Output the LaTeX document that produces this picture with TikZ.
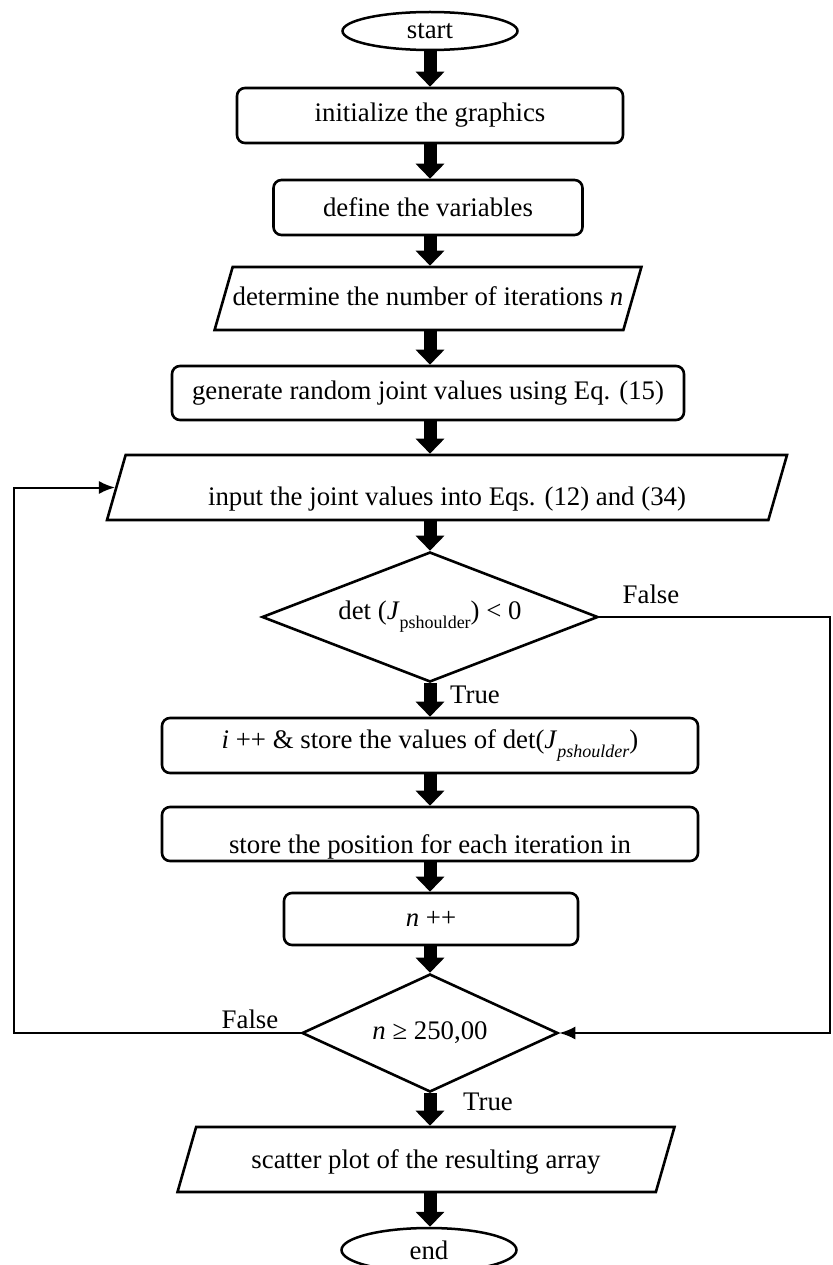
\documentclass[tikz,border=0pt]{standalone}
\usepackage{fontspec}
\setmainfont{Liberation Serif}
\usetikzlibrary{shapes.geometric, arrows.meta}

\begin{document}
\begin{tikzpicture}[x=1pt, y=-1pt,
  font=\fontsize{26.8}{32}\selectfont,
  term/.style={ellipse, draw, line width=2.5pt, minimum width=175pt, minimum height=38pt, inner sep=0pt},
  proc/.style={rectangle, rounded corners=8pt, draw, line width=2.6pt, inner sep=0pt},
  io/.style={trapezium, trapezium left angle=74, trapezium right angle=106, trapezium stretches body, draw, line width=2.6pt, inner sep=0pt},
  test/.style={diamond, draw, line width=2.6pt, inner sep=0pt},
  flow/.style={line width=13pt, -{Triangle[width=28pt, length=15pt]}},
  back/.style={line width=2pt, -{Latex[length=16pt, width=13pt]}},
  lab/.style={inner sep=0pt}]

% Page
\path[use as bounding box, fill=white] (0,0) rectangle (832,1265);

% Steps
\node[term] (start) at (430,31) {start};
\node[proc, minimum width=386pt, minimum height=55pt] (init) at (430,115.5) {initialize the graphics};
\node[proc, minimum width=309pt, minimum height=55pt] (vars) at (428,207.5) {define the variables};
\node[io, text height=38pt, text depth=25pt, minimum width=425pt] (iter) at (428,298.5) {determine the number of iterations \textit{n}};
\node[proc, minimum width=512pt, minimum height=54pt] (rand) at (428,393) {generate random joint values using Eq. (15)};
\node[io, text height=50pt, text depth=15pt, minimum width=680pt] (input) at (447,487.5) {input the joint values into Eqs. (12) and (34)};
\node[test, aspect=2.58, minimum width=336pt, minimum height=130pt] (neg) at (430,617) {det (\textit{J}\raisebox{-9pt}{\fontsize{18}{20}\selectfont pshoulder}) {<} 0};
\node[proc, minimum width=536pt, minimum height=55pt] (keep) at (430,745.5) {\textit{i} ++ \& store the values of det(\textit{J}\raisebox{-9pt}{\fontsize{18}{20}\selectfont\itshape pshoulder})};
\node[proc, minimum width=536pt, minimum height=54pt] (pos) at (430,834) {\raisebox{-19pt}[0pt][0pt]{store the position for each iteration in}};
\node[proc, minimum width=294pt, minimum height=52pt] (count) at (431,919) {\textit{n} ++};
\node[test, aspect=2.17, minimum width=256pt, minimum height=118pt] (done) at (430,1033) {\textit{n} ≥ 250,00};
\node[io, text height=41pt, text depth=24pt, minimum width=497pt] (plot) at (426,1159.5) {scatter plot of the resulting array};
\node[term, minimum height=44pt] (end) at (429,1250) {end};

% Corners
\coordinate (rbot) at (830,1033);
\coordinate (lbot) at (14,1033);

% Arrows
\draw[flow] (start.south) -- (start.south |- init.north);
\draw[flow] (init.south) -- (init.south |- vars.north);
\draw[flow] (init.south |- vars.south) -- (init.south |- iter.north);
\draw[flow] (init.south |- iter.south) -- (init.south |- rand.north);
\draw[flow] (init.south |- rand.south) -- (init.south |- input.north);
\draw[flow] (neg.north |- input.south) -- (neg.north);
\draw[flow] (neg.south) -- (neg.south |- keep.north);
\draw[flow] (keep.south) -- (keep.south |- pos.north);
\draw[flow] (pos.south) -- (pos.south |- count.north);
\draw[flow] (done.north |- count.south) -- (done.north);
\draw[flow] (done.south) -- (done.south |- plot.north);
\draw[flow] (done.south |- plot.south) -- (done.south |- end.north);

% Loops
\draw[back] (neg.east) -| (rbot) -- (done.east);
\draw[back] (done.west) -- (lbot) |- (input.west);

% Labels
\node[lab] (f1) at (651,594) {False};
\node[lab] (t1) at (475,695) {True};
\node[lab] (f2) at (250,1019) {False};
\node[lab] (t2) at (488,1102) {True};

\end{tikzpicture}
\end{document}
